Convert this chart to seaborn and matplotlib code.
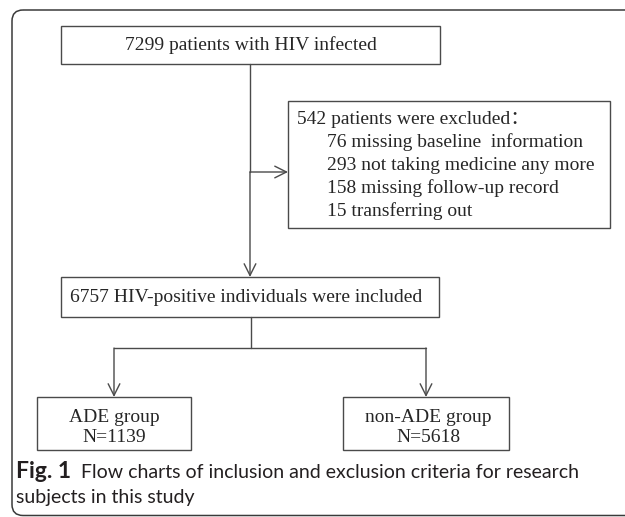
import matplotlib
matplotlib.use("Agg")
import matplotlib.pyplot as plt
import seaborn as sns
from matplotlib.patches import FancyBboxPatch, Rectangle

# counts in the flow chart
total_infected = 7299
excluded_total = 542
exclusion_reasons = ["missing baseline  information", "not taking medicine any more",
                     "missing follow-up record", "transferring out"]
exclusion_counts = [76, 293, 158, 15]
included_total = 6757
group_names = ["ADE group", "non-ADE group"]
group_counts = [1139, 5618]
caption_bold = "Fig. 1"
caption_lines = ["Flow charts of inclusion and exclusion criteria for research",
                 "subjects in this study"]

sns.set_theme(style="white")
plt.rcParams["font.family"] = ["Liberation Serif", "DejaVu Serif"]

W, H = 625, 517
fig = plt.figure(figsize=(W / 100, H / 100), dpi=100)
ax = fig.add_axes([0, 0, 1, 1])
ax.set_xlim(0, W)
ax.set_ylim(H, 0)
ax.axis("off")

line_c = "#4a4a4a"
fs = 14


def box(x0, y0, x1, y1):
    ax.add_patch(Rectangle((x0, y0), x1 - x0, y1 - y0, fill=False,
                           edgecolor=line_c, lw=1.0))


def arrow(x0, y0, x1, y1):
    ax.annotate("", xy=(x1, y1), xytext=(x0, y0),
                arrowprops=dict(arrowstyle="->,head_length=0.7,head_width=0.35",
                                color=line_c, lw=1.0, shrinkA=0, shrinkB=0,
                                mutation_scale=12))


# outer frame (runs off the right side)
ax.add_patch(FancyBboxPatch((12, 10), 660, 505.5,
                            boxstyle="round,pad=0,rounding_size=11",
                            fill=False, edgecolor="#3a3a3a", lw=1.1, clip_on=False))

# top box
box(61, 26, 440, 64)
ax.text(251, 45.5, f"{total_infected} patients with HIV infected",
        ha="center", va="center", fontsize=fs)

# exclusion box
box(288, 101, 610, 228)
ax.text(297, 119, f"{excluded_total} patients were excluded\uff1a",
        ha="left", va="center", fontsize=fs, family=["Liberation Serif", "Noto Sans CJK SC"])
for i, (n, r) in enumerate(zip(exclusion_counts, exclusion_reasons)):
    ax.text(327, 142 + i * 23, f"{n} {r}", ha="left", va="center", fontsize=fs)

ax.plot([250, 250], [64, 172], color=line_c, lw=1.0)
arrow(250, 172, 250, 277)
arrow(250, 172, 288, 172)

# included box
box(61, 277, 439, 317)
ax.text(70, 297, f"{included_total} HIV-positive individuals were included",
        ha="left", va="center", fontsize=fs)

# split into groups
ax.plot([251, 251], [317, 348], color=line_c, lw=1.0)
ax.plot([114, 426], [348, 348], color=line_c, lw=1.0)
arrow(114, 348, 114, 397)
arrow(426, 348, 426, 397)

box(37, 397, 191, 450)
box(343, 397, 509, 450)
for cx, name, n in zip([114, 428], group_names, group_counts):
    ax.text(cx, 417, name, ha="center", va="center", fontsize=fs)
    ax.text(cx, 438, f"N={n}", ha="center", va="center", fontsize=fs)

# caption
cap_font = ["Lato", "DejaVu Sans"]
cap_fs = 14
ax.text(16, 472, caption_bold, ha="left", va="center", fontsize=16.5,
        fontweight="bold", family=cap_font, color="#231f20")
ax.text(81, 472, caption_lines[0], ha="left", va="center", fontsize=cap_fs,
        family=cap_font, color="#231f20")
ax.text(16, 497, caption_lines[1], ha="left", va="center", fontsize=cap_fs,
        family=cap_font, color="#231f20")

fig.savefig("out.png", dpi=100)
